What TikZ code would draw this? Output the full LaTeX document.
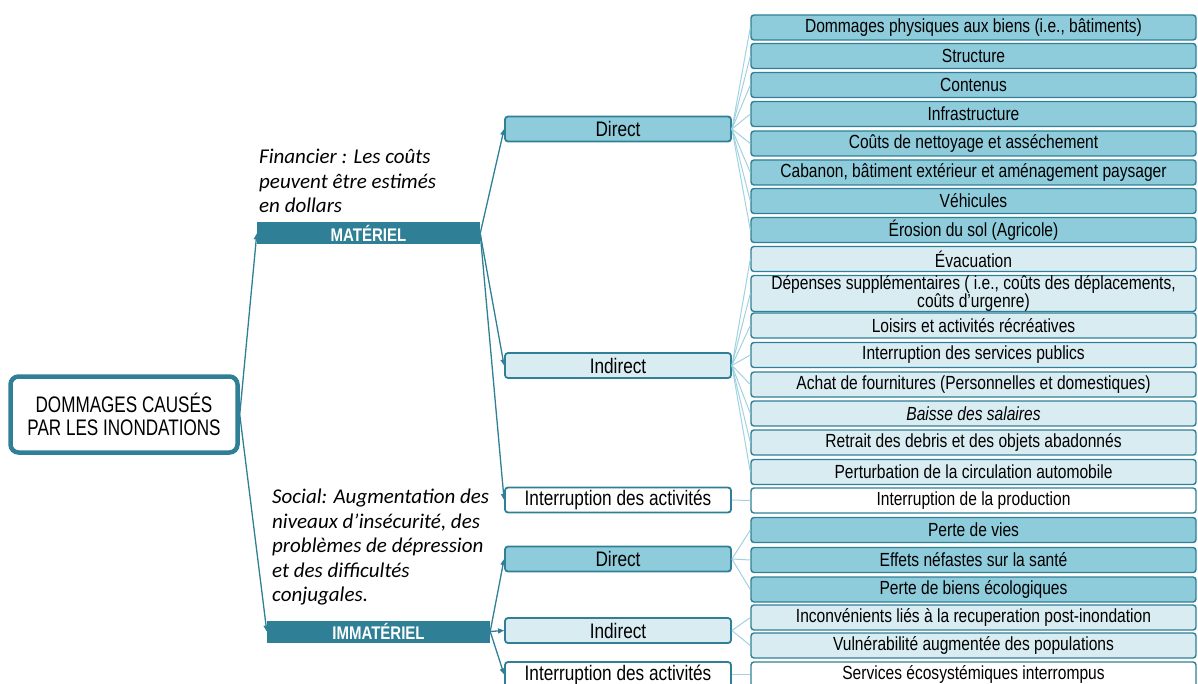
\documentclass[tikz,border=0pt]{standalone}
\usepackage{fontspec}
\setmainfont{Liberation Sans}[FakeStretch=0.82]
\newfontfamily\rootfont{Liberation Sans}[FakeStretch=0.76]
\newfontfamily\notefont{Carlito}
\usetikzlibrary{positioning, arrows.meta}
\definecolor{TealDark}{RGB}{47,128,150}
\definecolor{TealMid}{RGB}{142,203,219}
\definecolor{TealLight}{RGB}{216,236,242}
\definecolor{TealFan}{RGB}{160,210,224}

\begin{document}
\begin{tikzpicture}[x=1pt, y=-1pt,
    rootbox/.style={draw=TealDark, line width=4.5pt, rounded corners=8pt, fill=white,
      minimum width=227pt, minimum height=76pt, align=center,
      font=\rootfont\fontsize{22.5}{23.5}\selectfont},
    catbox/.style={fill=TealDark, text=white, minimum width=223pt, minimum height=22pt,
      inner sep=0pt, font=\fontsize{18.3}{19}\selectfont\bfseries},
    midbox/.style={draw=TealDark, line width=1.8pt, rounded corners=3pt,
      minimum width=226pt, minimum height=25pt, inner sep=0pt,
      font=\fontsize{21}{22}\selectfont},
    itembox/.style={draw=TealDark, line width=1.4pt, rounded corners=3pt,
      minimum width=445pt, minimum height=25pt, inner sep=0pt, align=center,
      font=\fontsize{19}{18}\selectfont},
    link/.style={draw=TealDark, line width=1.3pt, -{Triangle[length=6pt, width=5pt]}},
    fan/.style={draw=TealFan, line width=1pt},
    note/.style={anchor=north west, inner sep=0pt, align=left,
      font=\notefont\itshape\fontsize{21}{24.5}\selectfont}]
    \useasboundingbox (0,0) rectangle (1198,684);

    % Root and the two categories
    \node[rootbox] (root) at (124,414.5) {DOMMAGES CAUSÉS\\PAR LES INONDATIONS};
    \node[catbox] (mat) at (368.5,233.5) {MATÉRIEL};
    \node[catbox] (immat) at (378.5,631.5) {IMMATÉRIEL};

    \node[note] (finnote) at (259,149) {Financier : Les coûts\\peuvent être estimés\\en dollars};
    \node[note] (socnote) at (272,489) {Social: Augmentation des\\niveaux d’insécurité, des\\problèmes de dépression\\et des difficultés\\conjugales.};

    % Middle column
    \node[midbox, fill=TealMid] (mdir) at (618,129) {Direct};
    \node[midbox, fill=TealLight] (mind) at (618,365.5) {Indirect};
    \node[midbox, fill=white] (mint) at (618,500) {Interruption des activités};
    \node[midbox, fill=TealMid] (idir) at (618,559) {Direct};
    \node[midbox, fill=TealLight] (iind) at (618,630.5) {Indirect};
    \node[midbox, fill=white] (iint) at (618,674.5) {Interruption des activités};

    % Right column (material)
    \node[itembox, fill=TealMid] (r1) at (973.5,27.5) {Dommages physiques aux biens (i.e., bâtiments)};
    \node[itembox, fill=TealMid] (r2) at (973.5,56) {Structure};
    \node[itembox, fill=TealMid] (r3) at (973.5,85) {Contenus};
    \node[itembox, fill=TealMid] (r4) at (973.5,114) {Infrastructure};
    \node[itembox, fill=TealMid] (r5) at (973.5,143.5) {Coûts de nettoyage et asséchement};
    \node[itembox, fill=TealMid] (r6) at (973.5,172.5) {Cabanon, bâtiment extérieur et aménagement paysager};
    \node[itembox, fill=TealMid] (r7) at (973.5,201) {Véhicules};
    \node[itembox, fill=TealMid] (r8) at (973.5,230) {Érosion du sol (Agricole)};
    \node[itembox, fill=TealLight] (r9) at (973.5,259) {Évacuation};
    \node[itembox, fill=TealLight, minimum height=34pt] (r10) at (973.5,293.5) {Dépenses supplémentaires ( i.e., coûts des déplacements,\\coûts d’urgenre)};
    \node[itembox, fill=TealLight] (r11) at (973.5,325.5) {Loisirs et activités récréatives};
    \node[itembox, fill=TealLight] (r12) at (973.5,355) {Interruption des services publics};
    \node[itembox, fill=TealLight] (r13) at (973.5,384.5) {Achat de fournitures (Personnelles et domestiques)};
    \node[itembox, fill=TealLight] (r14) at (973.5,413.5) {\itshape Baisse des salaires};
    \node[itembox, fill=TealLight] (r15) at (973.5,442.5) {Retrait des debris et des objets abadonnés};
    \node[itembox, fill=TealLight] (r16) at (973.5,472) {Perturbation de la circulation automobile};
    \node[itembox, fill=white] (r17) at (973.5,500.5) {Interruption de la production};

    % Right column (immaterial)
    \node[itembox, fill=TealMid] (r18) at (973.5,530) {Perte de vies};
    \node[itembox, fill=TealMid] (r19) at (973.5,560) {Effets néfastes sur la santé};
    \node[itembox, fill=TealMid] (r20) at (973.5,589.5) {Perte de biens écologiques};
    \node[itembox, fill=TealLight] (r21) at (973.5,617.5) {Inconvénients liés à la recuperation post-inondation};
    \node[itembox, fill=TealLight] (r22) at (973.5,645.5) {Vulnérabilité augmentée des populations};
    \node[itembox, fill=white] (r23) at (973.5,674.5) {Services écosystémiques interrompus};

    % Arrows
    \draw[link] (root.east) -- (mat.west);
    \draw[link] (root.east) -- (immat.west);
    \foreach \m in {mdir, mind, mint} {
      \draw[link] (mat.east) -- (\m.west);
    }
    \foreach \m in {idir, iind, iint} {
      \draw[link] (immat.east) -- (\m.west);
    }

    % Fan lines
    \foreach \i in {1,...,8} {
      \draw[fan] (mdir.east) -- (r\i.west);
    }
    \foreach \i in {9,...,16} {
      \draw[fan] (mind.east) -- (r\i.west);
    }
    \draw[fan] (mint.east) -- (r17.west);
    \foreach \i in {18,19,20} {
      \draw[fan] (idir.east) -- (r\i.west);
    }
    \foreach \i in {21,22} {
      \draw[fan] (iind.east) -- (r\i.west);
    }
    \draw[fan] (iint.east) -- (r23.west);
  \end{tikzpicture}
\end{document}
